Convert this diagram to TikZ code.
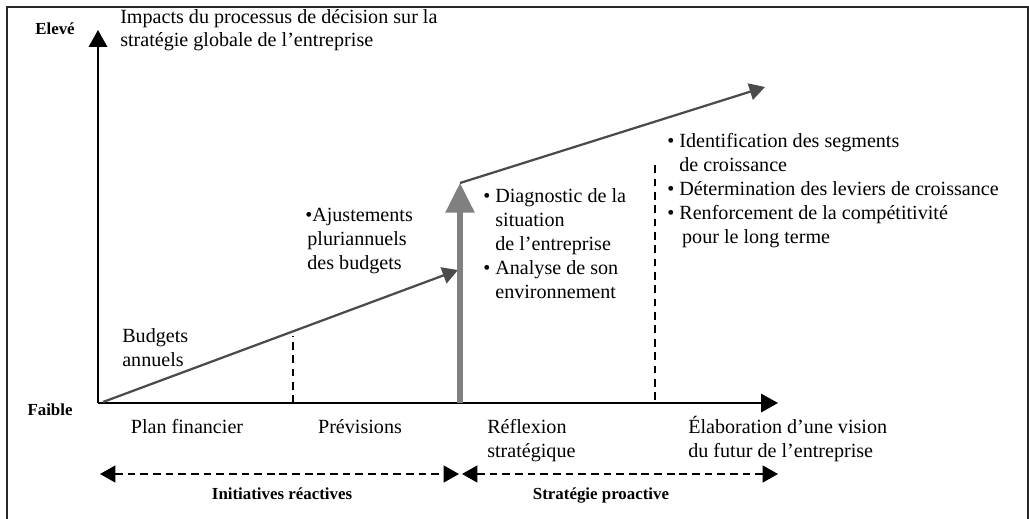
\documentclass[tikz,border=0pt]{standalone}
\usepackage{fontspec}
\setmainfont{Liberation Serif}
\usepackage{tikz}
\usetikzlibrary{arrows.meta, positioning}
\definecolor{grisfonce}{RGB}{75, 75, 75}
\definecolor{grisclair}{RGB}{128, 128, 128}
\definecolor{cadre}{RGB}{40, 40, 40}
\newcommand{\puce}{\textbullet\ }
\newcommand{\retrait}{\hphantom{\puce}}
\tikzset{
    axe/.style={-{Triangle[length=12pt, width=13pt]}, black, line width=1.4pt},
    pente/.style={-{Triangle[length=11pt, width=12pt]}, grisfonce, line width=1.6pt},
    grise/.style={-{Triangle[length=21pt, width=20pt]}, grisclair, line width=3.6pt},
    tiret/.style={black, line width=1.6pt, dash pattern=on 5.5pt off 4pt},
    duo/.style={{Triangle[length=11pt, width=12pt]}-{Triangle[length=11pt, width=12pt]}, black, line width=1.5pt, dash pattern=on 5.5pt off 3.5pt},
    txt/.style={inner sep=0pt, align=left, font=\fontsize{14.3}{17}\selectfont},
    gras/.style={inner sep=0pt, font=\fontsize{12}{14}\selectfont\bfseries},
}
\begin{document}
\begin{tikzpicture}[x=0.025cm, y=-0.025cm]
        \useasboundingbox (0,0) rectangle (1029,518);
        \draw[cadre, line width=1pt] (7,520) -- (7,7) -- (1028,7) -- (1028,520);

        % axes
        \coordinate (o) at (98,403);
        \coordinate (ytop) at (98,30);
        \coordinate (xend) at (778,403);
        \draw[axe] (o) -- (ytop);
        \draw[axe] (o) -- (xend);

        \node[gras] (elev) at (55,29) {Elevé};
        \node[gras] (faib) at (50,410) {Faible};
        % base = derniere ligne
        \node[txt, anchor=base west] (titre) at (120,47)
            {Impacts du processus de décision sur la\\stratégie globale de l’entreprise};

        % courbe
        \coordinate (p0) at (103,402);
        \coordinate (p1) at (458,270);
        \coordinate (g0) at (460,403);
        \coordinate (g1) at (460,183);
        \coordinate (p2) at (765,87);
        \draw[pente] (p0) -- (p1);
        \draw[grise] (g0) -- (g1);
        \draw[pente] (g1) -- (p2);

        % separations
        \coordinate (d1h) at (293,336);
        \coordinate (d1b) at (293,403);
        \coordinate (d2h) at (655,165);
        \coordinate (d2b) at (655,400);
        \draw[tiret] (d1b) -- (d1h);
        \draw[tiret] (d2b) -- (d2h);

        % textes
        \node[txt, anchor=base west] (budg) at (122,366) {Budgets\\annuels};
        \node[txt, anchor=base west] (ajus) at (305,269)
            {•Ajustements\\\hspace{1.5pt}pluriannuels\\\hspace{1.5pt}des budgets};
        \node[txt, anchor=base west] (diag) at (483,298)
            {\puce Diagnostic de la\\\retrait situation\\\retrait de l’entreprise\\\puce Analyse de son\\\retrait environnement};
        \node[txt, anchor=base west] (iden) at (667,243)
            {\puce Identification des segments\\\retrait de croissance\\\puce Détermination des leviers de croissance\\\puce Renforcement de la compétitivité\\\retrait\hspace{2pt}pour le long terme};

        \node[txt, anchor=base] (plan) at (187,433) {Plan financier};
        \node[txt, anchor=base] (prev) at (360,433) {Prévisions};
        \node[txt, anchor=base west] (refl) at (487,457) {Réflexion\\stratégique};
        \node[txt, anchor=base west] (elab) at (688,457) {Élaboration d’une vision\\du futur de l’entreprise};

        % periodes
        \coordinate (r0) at (100,474);
        \coordinate (r1) at (459,474);
        \coordinate (s0) at (462,474);
        \coordinate (s1) at (778,474);
        \draw[duo] (r0) -- (r1);
        \draw[duo] (s0) -- (s1);
        \node[gras, anchor=base] (reac) at (282,499) {Initiatives réactives};
        \node[gras, anchor=base] (proa) at (601,499) {Stratégie proactive};
\end{tikzpicture}
\end{document}
